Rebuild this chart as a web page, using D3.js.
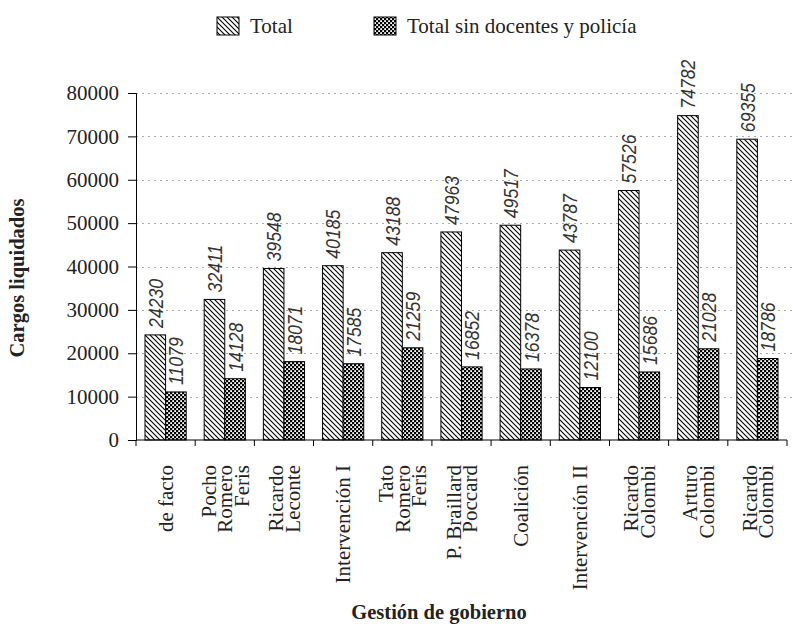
<!DOCTYPE html>
<html>
<head>
<meta charset="utf-8">
<script src="https://cdn.jsdelivr.net/npm/d3@7"></script>
<style>
  html, body { margin: 0; padding: 0; background: #fff; }
  svg { display: block; }
</style>
</head>
<body>
<svg id="chart" width="793" height="626"></svg>
<script>
// Government administrations (each entry split into its label lines)
const categories = [
  ["de facto"],
  ["Pocho", "Romero", "Feris"],
  ["Ricardo", "Leconte"],
  ["Intervención I"],
  ["Tato", "Romero", "Feris"],
  ["P. Braillard", "Poccard"],
  ["Coalición"],
  ["Intervención II"],
  ["Ricardo", "Colombi"],
  ["Arturo", "Colombi"],
  ["Ricardo", "Colombi"]
];
const totalValues = [24230, 32411, 39548, 40185, 43188, 47963, 49517, 43787, 57526, 74782, 69355];
const sinDocentesValues = [11079, 14128, 18071, 17585, 21259, 16852, 16378, 12100, 15686, 21028, 18786];
const seriesNames = ["Total", "Total sin docentes y policía"];
const yTicks = [0, 10000, 20000, 30000, 40000, 50000, 60000, 70000, 80000];

const serif = "'Liberation Serif', 'Times New Roman', serif";
const sans = "'Liberation Sans', Arial, sans-serif";
const ink = "#222";

const svg = d3.select("#chart");
const W = 793;
const plotLeft = 136, plotRight = 787;

// Fill patterns: diagonal hatch and dark checker
const defs = svg.append("defs");
const hatch = defs.append("pattern")
  .attr("id", "hatch").attr("patternUnits", "userSpaceOnUse")
  .attr("width", 5).attr("height", 5);
hatch.append("rect").attr("width", 5).attr("height", 5).attr("fill", "#fff");
hatch.append("path")
  .attr("d", "M0,0 L5,5 M-1,4 L1,6 M4,-1 L6,1")
  .attr("stroke", "#000").attr("stroke-width", 1.1);

const checker = defs.append("pattern")
  .attr("id", "checker").attr("patternUnits", "userSpaceOnUse")
  .attr("width", 4).attr("height", 4);
checker.append("rect").attr("width", 4).attr("height", 4).attr("fill", "#000");
checker.append("rect").attr("x", 0.2).attr("y", 0.2).attr("width", 1.8).attr("height", 1.8).attr("fill", "#fff");
checker.append("rect").attr("x", 2.2).attr("y", 2.2).attr("width", 1.8).attr("height", 1.8).attr("fill", "#fff");

const fills = ["url(#hatch)", "url(#checker)"];

const x = d3.scaleBand()
  .domain(d3.range(categories.length))
  .range([plotLeft, plotRight])
  .paddingInner(0).paddingOuter(0);

const y = d3.scaleLinear().domain([0, 80000]).range([440, 93]);

// Horizontal dotted grid
svg.append("g").selectAll("line")
  .data(yTicks.filter(d => d > 0))
  .join("line")
  .attr("x1", plotLeft).attr("x2", W)
  .attr("y1", d => Math.round(y(d)) + 0.5).attr("y2", d => Math.round(y(d)) + 0.5)
  .attr("stroke", "#aaa").attr("stroke-width", 1)
  .attr("stroke-dasharray", "2,4");

// Bars
const barPad = 9;
const barW = (x.bandwidth() - 2 * barPad) / 2;
const seriesData = [totalValues, sinDocentesValues];

seriesData.forEach((vals, s) => {
  const g = svg.append("g");
  g.selectAll("rect")
    .data(vals)
    .join("rect")
    .attr("x", (d, i) => x(i) + barPad + s * barW)
    .attr("y", d => y(d))
    .attr("width", barW)
    .attr("height", d => y(0) - y(d))
    .attr("fill", fills[s])
    .attr("stroke", "#000").attr("stroke-width", 1);

  // Value labels above the bars (condensed italic)
  g.selectAll("text")
    .data(vals)
    .join("text")
    .attr("transform", (d, i) => `translate(${x(i) + barPad + s * barW + barW / 2},${y(d) - 7}) rotate(-90) scale(0.84,1)`)
    .attr("dy", "0.36em")
    .attr("text-anchor", "start")
    .attr("font-family", sans)
    .attr("font-style", "italic")
    .attr("font-size", 21)
    .attr("fill", "#333")
    .text(d => d);
});

// Y axis
const yAxis = d3.axisLeft(y).tickValues(yTicks).tickSize(8).tickPadding(9).tickFormat(d3.format("d"));
const gy = svg.append("g").attr("transform", `translate(${plotLeft},0)`).call(yAxis);
gy.select(".domain").attr("stroke", "#000");
gy.selectAll(".tick line").attr("stroke", "#000");
gy.selectAll(".tick text")
  .attr("font-family", serif).attr("font-size", 21).attr("fill", ink);

// X axis with ticks at band boundaries
svg.append("line")
  .attr("x1", plotLeft).attr("x2", plotRight)
  .attr("y1", y(0)).attr("y2", y(0))
  .attr("stroke", "#000");
svg.append("g").selectAll("line")
  .data(d3.range(categories.length + 1))
  .join("line")
  .attr("x1", i => i < categories.length ? x(i) : plotRight)
  .attr("x2", i => i < categories.length ? x(i) : plotRight)
  .attr("y1", y(0)).attr("y2", y(0) + 6)
  .attr("stroke", "#000");

// Category labels, rotated, multi-line
const lineGap = 16.5;
const catG = svg.append("g");
categories.forEach((lines, i) => {
  const cx = x(i) + x.bandwidth() / 2;
  const n = lines.length;
  const t = catG.append("text")
    .attr("transform", `translate(${cx},465) rotate(-90)`)
    .attr("text-anchor", "end")
    .attr("font-family", serif).attr("font-size", 21).attr("fill", ink);
  lines.forEach((ln, k) => {
    t.append("tspan")
      .attr("x", 0)
      .attr("y", (k - (n - 1) / 2) * lineGap)
      .attr("dy", "0.35em")
      .text(ln);
  });
});

// Axis titles
svg.append("text")
  .attr("transform", "translate(24,278) rotate(-90)")
  .attr("text-anchor", "middle")
  .attr("font-family", serif).attr("font-weight", "bold").attr("font-size", 20.5)
  .attr("fill", ink)
  .text("Cargos liquidados");

svg.append("text")
  .attr("x", 439).attr("y", 619)
  .attr("text-anchor", "middle")
  .attr("font-family", serif).attr("font-weight", "bold").attr("font-size", 20.5)
  .attr("fill", ink)
  .text("Gestión de gobierno");

// Legend
const legendItems = [
  { x: 217, label: seriesNames[0], fill: fills[0] },
  { x: 374, label: seriesNames[1], fill: fills[1] }
];
const lg = svg.append("g");
legendItems.forEach(it => {
  lg.append("rect")
    .attr("x", it.x).attr("y", 17).attr("width", 22).attr("height", 18)
    .attr("fill", it.fill).attr("stroke", "#000");
  lg.append("text")
    .attr("x", it.x + 33).attr("y", 33)
    .attr("font-family", serif).attr("font-size", 21).attr("fill", ink)
    .text(it.label);
});
</script>
</body>
</html>
